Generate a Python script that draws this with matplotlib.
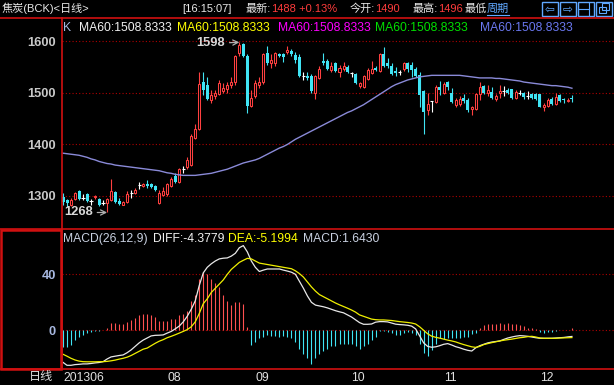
import numpy as np
import matplotlib
matplotlib.use('Agg')
import matplotlib.pyplot as plt
from matplotlib.lines import Line2D
from matplotlib.patches import Rectangle

plt.rcParams['font.family'] = ['Liberation Sans', 'Noto Sans CJK SC', 'DejaVu Sans']

# daily candles, Jun..Dec 2013
opens = [1299, 1293, 1282, 1295, 1310, 1297, 1303, 1290, 1298, 1295,
         1287, 1286, 1292, 1307, 1291, 1283, 1288, 1306, 1306, 1321,
         1320, 1324, 1323, 1319, 1286, 1302, 1303, 1320, 1338, 1328,
         1352, 1356, 1360, 1412, 1430, 1521, 1516, 1487, 1493, 1497,
         1503, 1508, 1516, 1522, 1577, 1594, 1571, 1475, 1493, 1516,
         1521, 1577, 1557, 1557, 1575, 1575, 1579, 1581, 1573, 1570,
         1533, 1533, 1532, 1500, 1529, 1562, 1562, 1544, 1557, 1540,
         1547, 1551, 1538, 1536, 1514, 1512, 1527, 1539, 1549, 1543,
         1575, 1558, 1553, 1542, 1541, 1547, 1557, 1555, 1547, 1534,
         1503, 1466, 1484, 1482, 1512, 1500, 1521, 1500, 1477, 1479,
         1490, 1487, 1468, 1468, 1497, 1513, 1499, 1502, 1488, 1500,
         1503, 1505, 1507, 1490, 1500, 1499, 1494, 1497, 1497, 1497,
         1472, 1475, 1489, 1479, 1495, 1489, 1484, 1490]
highs = [1306, 1295, 1297, 1308, 1312, 1303, 1306, 1295, 1301, 1297,
         1292, 1296, 1333, 1310, 1296, 1290, 1310, 1312, 1315, 1328,
         1326, 1331, 1326, 1322, 1312, 1318, 1326, 1337, 1345, 1355,
         1358, 1375, 1420, 1440, 1540, 1540, 1530, 1506, 1505, 1525,
         1520, 1522, 1530, 1573, 1598, 1596, 1575, 1505, 1525, 1530,
         1578, 1590, 1575, 1580, 1578, 1577, 1590, 1585, 1580, 1575,
         1540, 1540, 1537, 1535, 1553, 1578, 1565, 1560, 1560, 1555,
         1560, 1555, 1541, 1538, 1522, 1535, 1548, 1562, 1552, 1578,
         1588, 1568, 1558, 1550, 1545, 1560, 1560, 1560, 1550, 1540,
         1505, 1500, 1485, 1515, 1523, 1522, 1523, 1510, 1490, 1493,
         1497, 1490, 1475, 1500, 1522, 1515, 1515, 1512, 1497, 1515,
         1514, 1510, 1508, 1505, 1505, 1502, 1503, 1500, 1500, 1498,
         1480, 1490, 1492, 1500, 1498, 1490, 1490, 1496]
lows = [1283, 1278, 1280, 1292, 1293, 1292, 1289, 1282, 1294, 1280,
        1282, 1268, 1291, 1287, 1282, 1282, 1286, 1296, 1304, 1313,
        1318, 1315, 1315, 1310, 1284, 1300, 1300, 1318, 1325, 1325,
        1345, 1353, 1358, 1410, 1428, 1495, 1486, 1480, 1488, 1495,
        1500, 1500, 1510, 1515, 1572, 1570, 1460, 1472, 1490, 1510,
        1518, 1555, 1548, 1552, 1570, 1560, 1575, 1572, 1558, 1530,
        1525, 1525, 1500, 1488, 1527, 1555, 1545, 1540, 1540, 1530,
        1543, 1538, 1531, 1517, 1510, 1510, 1525, 1536, 1542, 1540,
        1550, 1548, 1535, 1532, 1535, 1542, 1540, 1530, 1530, 1473,
        1421, 1458, 1462, 1480, 1495, 1498, 1505, 1480, 1472, 1475,
        1480, 1463, 1458, 1467, 1487, 1497, 1493, 1488, 1485, 1490,
        1494, 1497, 1488, 1488, 1495, 1488, 1489, 1488, 1486, 1472,
        1465, 1472, 1477, 1477, 1483, 1480, 1483, 1482]
closes = [1289, 1286, 1293, 1306, 1295, 1297, 1291, 1290, 1300, 1283,
          1287, 1295, 1310, 1289, 1284, 1289, 1304, 1306, 1312, 1321,
          1324, 1319, 1317, 1312, 1305, 1310, 1323, 1333, 1328, 1352,
          1352, 1370, 1417, 1429, 1518, 1506, 1488, 1495, 1500, 1519,
          1510, 1516, 1522, 1571, 1592, 1572, 1474, 1490, 1519, 1522,
          1575, 1557, 1563, 1577, 1572, 1570, 1583, 1575, 1564, 1533,
          1533, 1529, 1503, 1532, 1547, 1558, 1547, 1553, 1543, 1549,
          1552, 1540, 1538, 1519, 1519, 1532, 1544, 1547, 1544, 1575,
          1553, 1552, 1537, 1539, 1541, 1558, 1547, 1545, 1532, 1496,
          1462, 1479, 1484, 1512, 1505, 1518, 1512, 1482, 1486, 1488,
          1484, 1466, 1472, 1497, 1512, 1500, 1505, 1490, 1494, 1503,
          1503, 1500, 1490, 1501, 1500, 1492, 1494, 1490, 1488, 1473,
          1476, 1487, 1479, 1492, 1485, 1486, 1487, 1488]

ma60 = [1383, 1382, 1381, 1380, 1379, 1377, 1375, 1372, 1370, 1367,
        1365, 1363, 1362, 1360, 1359, 1358, 1357, 1356, 1355, 1354,
        1353, 1352, 1351, 1350, 1349, 1347, 1345, 1344, 1342, 1341,
        1340, 1340, 1340, 1340, 1341, 1342, 1343, 1344, 1346, 1348,
        1350, 1352, 1355, 1358, 1361, 1364, 1366, 1368, 1370, 1373,
        1377, 1381, 1385, 1389, 1393, 1396, 1400, 1405, 1410, 1414,
        1418, 1422, 1426, 1430, 1434, 1438, 1442, 1446, 1450, 1454,
        1458, 1462, 1465, 1469, 1473, 1477, 1482, 1487, 1492, 1497,
        1502, 1507, 1512, 1516, 1519, 1522, 1525, 1527, 1529, 1531,
        1532, 1533, 1534, 1534, 1534, 1534, 1534, 1534, 1534, 1534,
        1533, 1532, 1531, 1530, 1529, 1529, 1529, 1529, 1528, 1528,
        1527, 1526, 1525, 1524, 1523, 1521, 1520, 1519, 1518, 1517,
        1516, 1515, 1514, 1514, 1513, 1512, 1511, 1509]

diff = [-22.9, -25, -25, -24.5, -24.3, -24, -24, -23.7, -23.3, -23,
        -22.4, -20.5, -19, -18.5, -18, -17.6, -16, -14, -11.5, -9,
        -7, -5.5, -4, -3.6, -3.5, -3.3, -2, -0.8, 1, 3,
        6, 10, 15, 21, 32, 41, 45, 47.5, 49.5, 51,
        51.5, 51.7, 53, 55, 59, 60.5, 56, 49.5, 45, 42,
        43, 43.8, 43.8, 43.8, 43.8, 43, 42.3, 41.5, 40, 35,
        30, 24.5, 20, 18, 17.4, 16.8, 16, 15, 14, 13.2,
        12.5, 11, 9.5, 7.5, 5.5, 4.3, 4.3, 4.5, 5.8, 6.2,
        6.2, 6, 5.2, 4.4, 4.1, 3.9, 3.6, 3, 1, -4,
        -9, -11.5, -12.1, -11.8, -11, -10, -9.5, -10.5, -11.7, -12.5,
        -13.5, -14.3, -14.8, -12.5, -11, -10, -9, -8.4, -8, -7.6,
        -6.5, -5.5, -4.8, -4.2, -3.8, -4, -4.3, -4.8, -5.3, -5.7,
        -5.7, -5.7, -5.7, -5.5, -5.3, -5.1, -4.7, -4.4]
dea = [-17.1, -18.5, -20, -21.2, -22, -22.4, -22.5, -22.5, -22.5, -22.4,
       -22.4, -22.2, -21.8, -21.3, -20.6, -20, -19.2, -18, -16.5, -15,
       -13.5, -12.7, -11, -9.3, -7.8, -6.7, -5.3, -4.3, -3.2, -2,
       -0.8, 0.5, 2.5, 6, 12, 19, 22.5, 27, 30, 33,
       36, 40, 43.5, 46, 48.5, 50, 51.4, 51, 49.5, 48,
       47.5, 47, 46.5, 46, 45.5, 45, 44.5, 44, 42.5, 40.5,
       38, 34.5, 31, 28, 25.5, 24, 22.5, 21, 19.5, 18.2,
       17, 15.8, 14.5, 13, 11, 10, 9, 8, 7.6, 7.4,
       7.4, 7.2, 7, 6.6, 6.2, 5.9, 5.6, 5.2, 4.5, 2.5,
       0, -2.5, -4.2, -5, -5.6, -6.3, -7, -7.6, -8.3, -9.3,
       -10.2, -11, -11.8, -12.2, -11.5, -10.2, -9.5, -8.8, -8.2, -7.6,
       -7.1, -6.7, -6.3, -5.8, -5.3, -5, -4.5, -4.3, -4.8, -5.5,
       -5.7, -5.7, -5.7, -5.7, -5.5, -5.4, -5.3, -5.2]
macd = [-12, -12, -10.5, -7, -4.5, -3, -2, -1, -0.3, -0.2,
        0.3, 1.5, 5.5, 5.5, 4.5, 4.5, 6, 7.5, 9, 11,
        12, 12, 11, 9.5, 7, 6.5, 6.5, 8, 8, 11,
        12, 13.5, 21, 25, 37, 42, 40, 37, 33.5, 31,
        25, 21, 18, 20, 20.5, 19, 2.5, -10.5, -8, -5.5,
        -4.5, -3, -4, -4, -4.5, -4, -5, -5.5, -8, -13,
        -17, -19.5, -24, -20, -17, -15, -13.5, -11.5, -11, -10,
        -10, -9.5, -10, -11.5, -13.5, -11.5, -9.5, -7, -5, -0.3,
        -0.3, -1, -2, -3.3, -3, -2, -1.5, -2, -3.3, -10,
        -16.5, -18, -14, -9.5, -5.7, -6.2, -5.2, -5.7, -5.7, -5.2,
        -4.5, -4.5, -2.9, -2.1, 1.4, 3.8, 4.8, 4.3, 4.8, 5.5,
        4.8, 5.5, 4.3, 4.3, 3.8, 3.3, 1.9, 1.4, 1.0, -1.4,
        -2.1, -1.4, -1.0, -0.3, 0.3, 0.3, 0.5, 1.6]

month_idx = [0, 26, 48, 72, 95, 119]
month_labels = ['201306', '08', '09', '10', '11', '12']
price_ticks = [1300, 1400, 1500, 1600]
macd_ticks = [0, 40]

W, H = 614, 385
RED = '#ff4040'
CYAN = '#40e4f4'
GRID = '#b00000'
BORDER = '#d01010'
WHITE = '#e8e8e8'
NUM = '#ff3c3c'
LINK = '#60a8ff'


def fx(x):
    return x / W


def fy(y):
    return 1 - y / H


fig = plt.figure(figsize=(W / 100, H / 100), dpi=100, facecolor='black')

o = np.array(opens, float)
h = np.array(highs, float)
l = np.array(lows, float)
c = np.array(closes, float)
idx = np.arange(len(c))
up = c > o
dn = c < o
dj = c == o

# ---- price panel
ax = fig.add_axes([fx(61.5), fy(229), fx(614 - 61.5), (229 - 18) / H])
ax.set_facecolor('black')
ax.set_xlim(-0.374, 137.5)
ax.set_ylim(1236.0, 1645.2)
for s in ax.spines.values():
    s.set_visible(False)
for p in price_ticks:
    ax.axhline(p, color=GRID, lw=0.8, ls=(0, (1, 2)), zorder=0)

ax.vlines(idx[up], l[up], h[up], color=RED, lw=0.8, zorder=2)
ax.vlines(idx[dn], l[dn], h[dn], color=CYAN, lw=0.8, zorder=2)
ax.vlines(idx[dj], l[dj], h[dj], color='white', lw=0.8, zorder=2)
ax.bar(idx[up], c[up] - o[up], bottom=o[up], width=0.5,
       facecolor='black', edgecolor=RED, linewidth=0.75, zorder=3)
ax.bar(idx[dn], o[dn] - c[dn], bottom=c[dn], width=0.75,
       color=CYAN, linewidth=0, zorder=3)
ax.hlines(c[dj], idx[dj] - 0.4, idx[dj] + 0.4, color='white', lw=0.8, zorder=3)
ax.plot(idx, ma60, color='#8a8ad8', lw=1, zorder=4)

ax.set_yticks(price_ticks)
ax.set_yticklabels([str(p) for p in price_ticks])
ax.tick_params(axis='y', length=0, pad=4, labelsize=9.3, labelcolor='#c8c8c8')
for t in ax.get_yticklabels():
    t.set_fontweight('bold')
ax.set_xticks([])

ih = int(np.argmax(h))
il = int(np.argmin(l))
arrow = dict(arrowstyle='->', color='#b0b0b0', lw=0.9, shrinkA=1, shrinkB=0)
ax.annotate(f'{h[ih]:.0f}', xy=(ih, h[ih]), xytext=(-14, -1), textcoords='offset pixels',
            ha='right', va='center', color='#d8d8d8', fontsize=9.3, fontweight='bold',
            arrowprops=arrow, zorder=6)
ax.annotate(f'{l[il]:.0f}', xy=(il, l[il]), xytext=(-14, 0), textcoords='offset pixels',
            ha='right', va='center', color='#d8d8d8', fontsize=9.3, fontweight='bold',
            arrowprops=arrow, zorder=6)

# ---- MACD panel
mx = fig.add_axes([fx(61.5), fy(369), fx(614 - 61.5), (369 - 229) / H])
mx.set_facecolor('black')
mx.set_xlim(-0.374, 137.5)
mx.set_ylim(-27.64, 72.36)
for s in mx.spines.values():
    s.set_visible(False)
for p in macd_ticks:
    mx.axhline(p, color=GRID, lw=0.8, ls=(0, (1, 2)), zorder=0)
m = np.array(macd)
mx.vlines(idx[m >= 0], 0, m[m >= 0], color='#ff5050', lw=0.8, zorder=2)
mx.vlines(idx[m < 0], 0, m[m < 0], color=CYAN, lw=0.8, zorder=2)
mx.plot(idx, diff, color='#e8e8e8', lw=0.9, zorder=3)
mx.plot(idx, dea, color='#f0f000', lw=0.9, zorder=3)
mx.set_yticks(macd_ticks)
mx.set_yticklabels([str(p) for p in macd_ticks])
mx.tick_params(axis='y', length=0, pad=4, labelsize=9.3, labelcolor='#a8b8e0')
for t in mx.get_yticklabels():
    t.set_fontweight('bold')
mx.set_xticks(month_idx)
mx.set_xticklabels(month_labels)
mx.tick_params(axis='x', length=0, pad=2, labelsize=8.7, labelcolor='#e0e0e0')
for t in mx.get_xticklabels():
    t.set_ha('left')

# ---- frame lines
for y in (17.7, 229, 369):
    fig.add_artist(Line2D([0, 1], [fy(y), fy(y)], color=BORDER, lw=1.2))
fig.add_artist(Line2D([fx(61.5), fx(61.5)], [fy(17.7), fy(369)], color=BORDER, lw=1.2))
fig.add_artist(Rectangle((fx(1), fy(368.5)), fx(60), (368.5 - 229.5) / H,
                         fill=False, edgecolor=BORDER, lw=1.8))

# ---- header, pieces of one group are set side by side
renderer = fig.canvas.get_renderer()
groups = [(2, [('焦炭(BCK)<日线>', WHITE)]),
          (182, [('[16:15:07]', WHITE)]),
          (246, [('最新:', WHITE), ('1488', NUM), (' +0.13%', NUM)]),
          (350, [('今开:', WHITE), ('1490', NUM)]),
          (413, [('最高:', WHITE), ('1496', NUM)]),
          (465, [('最低', WHITE)])]
for x0, parts in groups:
    x = x0
    for s, col in parts:
        t = fig.text(fx(x), fy(8.5), s, color=col, fontsize=8, ha='left', va='center')
        x += t.get_window_extent(renderer).width
t = fig.text(fx(487), fy(8.5), '周期', color=LINK, fontsize=8, ha='left', va='center',
             bbox=dict(facecolor='black', edgecolor='none', pad=0.3))
wl = t.get_window_extent(renderer).width
fig.add_artist(Line2D([fx(487), fx(487 + wl)], [fy(15.3), fy(15.3)], color=LINK, lw=0.8))

# window buttons
for x0 in (542, 560, 578, 596):
    fig.add_artist(Rectangle((fx(x0), fy(15.5)), fx(16), 13.5 / H, fill=False,
                             edgecolor=LINK, lw=1))
fig.text(fx(550), fy(8.7), '⇦', color=LINK, fontsize=8.5, ha='center', va='center',
         family=['DejaVu Sans'])
fig.text(fx(568), fy(8.7), '⇨', color=LINK, fontsize=8.5, ha='center', va='center',
         family=['DejaVu Sans'])
fig.add_artist(Line2D([fx(589), fx(589)], [fy(3), fy(15)], color=LINK, lw=0.8))
fig.add_artist(Line2D([fx(578), fx(589)], [fy(8.7), fy(8.7)], color=LINK, lw=0.8))
fig.add_artist(Rectangle((fx(598.5), fy(13)), fx(7), 6 / H, fill=False, edgecolor=LINK, lw=0.8))
fig.add_artist(Rectangle((fx(602), fy(9.5)), fx(7), 6 / H, fill=False, edgecolor=LINK, lw=0.8))

# ---- legends
leg = [(63, 'K', '#a8b8e0'), (79, 'MA60:1508.8333', '#f0f0f0'),
       (177, 'MA60:1508.8333', '#ffff00'), (278, 'MA60:1508.8333', '#ff00ff'),
       (375, 'MA60:1508.8333', '#00e000'), (480, 'MA60:1508.8333', '#6a78f0')]
for x, s, col in leg:
    fig.text(fx(x), fy(28.3), s, color=col, fontsize=8.7, ha='left', va='center')

mleg = [(63, 'MACD(26,12,9)', '#c8d0e0'), (153, 'DIFF:-4.3779', '#f0f0f0'),
        (228, 'DEA:-5.1994', '#ffff00'), (303, 'MACD:1.6430', '#c8d0e0')]
for x, s, col in mleg:
    fig.text(fx(x), fy(239), s, color=col, fontsize=8.7, ha='left', va='center')

fig.text(fx(53), fy(377.3), '日线', color='#e0e0e0', fontsize=8.7, ha='right', va='center')

fig.savefig('out.png', dpi=100, facecolor='black')
